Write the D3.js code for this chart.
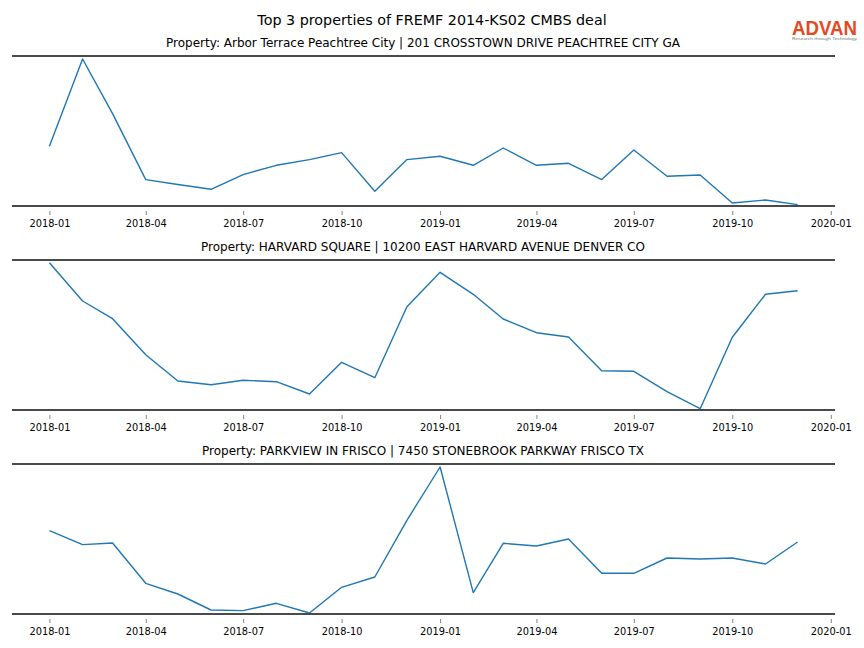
<!DOCTYPE html>
<html>
<head>
<meta charset="utf-8">
<script src="https://cdn.jsdelivr.net/npm/d3@7"></script>
<style>
  html, body { margin: 0; padding: 0; background: #fff; }
  svg { display: block; font-family: "DejaVu Sans", sans-serif; }
</style>
</head>
<body>
<svg id="chart" width="864" height="648"></svg>
<script>
const chartTitle = "Top 3 properties of FREMF 2014-KS02 CMBS deal";
const months = ["2018-01","2018-02","2018-03","2018-04","2018-05","2018-06","2018-07","2018-08","2018-09","2018-10","2018-11","2018-12",
                "2019-01","2019-02","2019-03","2019-04","2019-05","2019-06","2019-07","2019-08","2019-09","2019-10","2019-11","2019-12"];
const tickLabels = ["2018-01","2018-04","2018-07","2018-10","2019-01","2019-04","2019-07","2019-10","2020-01"];
const propertyTitles = [
  "Property: Arbor Terrace Peachtree City | 201 CROSSTOWN DRIVE PEACHTREE CITY GA",
  "Property: HARVARD SQUARE | 10200 EAST HARVARD AVENUE DENVER CO",
  "Property: PARKVIEW IN FRISCO | 7450 STONEBROOK PARKWAY FRISCO TX"
];
const arborValues   = [597,1470,924,264,215,167,314,407,464,534,147,464,497,407,580,407,427,264,560,297,310,30,60,14];
const harvardValues = [1473,1090,913,553,290,253,297,283,160,477,323,1033,1377,1157,910,773,730,393,387,183,13,727,1157,1193];
const parkviewValues= [834,694,710,307,200,40,34,107,10,267,370,937,1470,214,707,680,750,407,407,560,550,560,500,720];
const seriesList = [arborValues, harvardValues, parkviewValues];
const yLimits = [0, 1500];

const svg = d3.select("#chart");
const left = 12, right = 835;
const panelTops = [56, 260, 464];
const panelH = 150;
const parse = d3.timeParse("%Y-%m");
const dates = months.map(parse);
const span = (dates[dates.length-1] - dates[0]);
const x = d3.scaleTime()
  .domain([new Date(+dates[0] - span*0.05), new Date(+dates[dates.length-1] + span*0.05)])
  .range([left, right]);

svg.append("text")
  .attr("x", 432).attr("y", 24.5)
  .attr("text-anchor", "middle")
  .attr("font-size", 14.3)
  .attr("fill", "#000")
  .text(chartTitle);

// logo
const logo = svg.append("g").attr("transform", "translate(792,0)");
logo.append("text").attr("x", 0).attr("y", 34.5)
  .attr("font-family", "Liberation Sans, Arial, sans-serif")
  .attr("font-size", 20).attr("font-weight", "bold").attr("fill", "#e24a22")
  .attr("textLength", 65).attr("lengthAdjust", "spacingAndGlyphs")
  .text("ADVAN");
logo.append("text").attr("x", 0).attr("y", 39.8)
  .attr("font-family", "Liberation Sans, Arial, sans-serif")
  .attr("font-size", 4.2).attr("fill", "#777")
  .attr("textLength", 65).attr("lengthAdjust", "spacingAndGlyphs")
  .text("Research through Technology");

seriesList.forEach((vals, i) => {
  const top = panelTops[i];
  const bottom = top + panelH;
  const y = d3.scaleLinear().domain(yLimits).range([bottom, top]);
  const g = svg.append("g");

  g.append("text")
    .attr("x", 423).attr("y", top - 9.5)
    .attr("text-anchor", "middle")
    .attr("font-size", 12)
    .attr("fill", "#000")
    .text(propertyTitles[i]);

  const line = d3.line().x((d, k) => x(dates[k])).y(d => y(d));
  g.append("path")
    .datum(vals)
    .attr("d", line)
    .attr("fill", "none")
    .attr("stroke", "#1f77b4")
    .attr("stroke-width", 1.4)
    .attr("stroke-linejoin", "round");

  [top, bottom].forEach(yy => {
    g.append("line")
      .attr("x1", left).attr("x2", right)
      .attr("y1", yy).attr("y2", yy)
      .attr("stroke", "#4a4a4a").attr("stroke-width", 2);
  });

  const axis = d3.axisBottom(x)
    .tickValues(tickLabels.map(parse))
    .tickFormat(d3.timeFormat("%Y-%m"))
    .tickSize(4).tickPadding(5.5);
  const ax = g.append("g")
    .attr("transform", `translate(0,${bottom + 5})`)
    .call(axis);
  ax.select(".domain").remove();
  ax.selectAll(".tick line").attr("stroke", "#666").attr("stroke-width", 0.8);
  ax.selectAll(".tick text")
    .attr("font-family", "DejaVu Sans, sans-serif")
    .attr("font-size", 9.8).attr("fill", "#000");
});
</script>
</body>
</html>
